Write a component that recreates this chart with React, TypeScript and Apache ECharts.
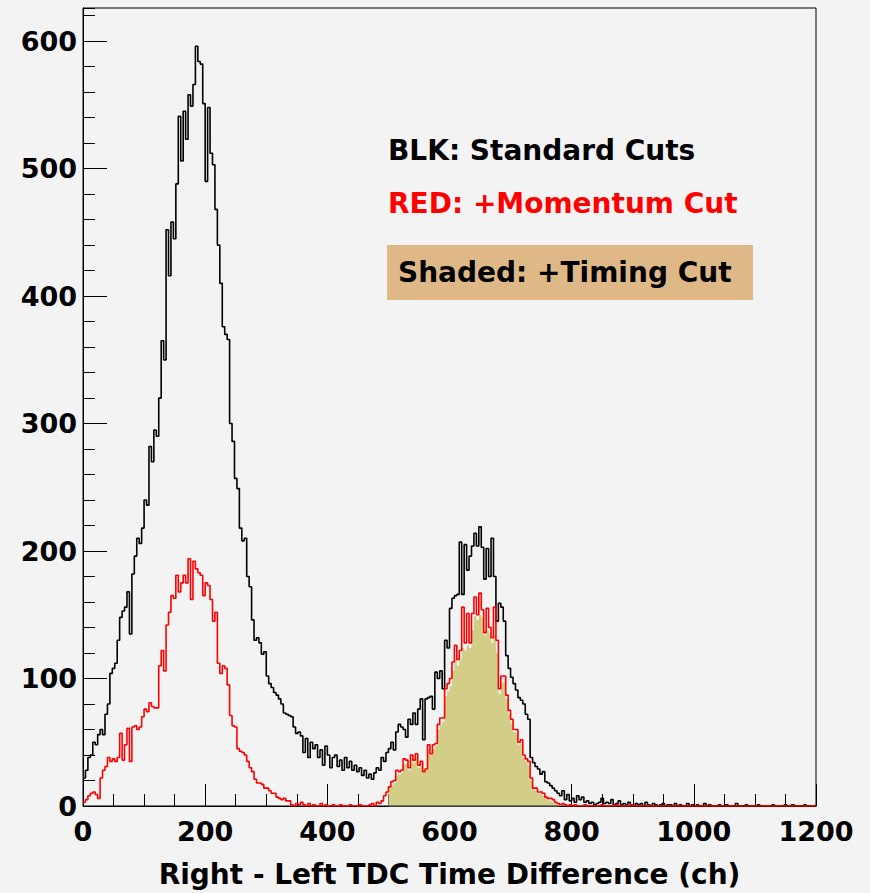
import React, { useEffect, useRef } from "react";
import * as echarts from "echarts";

// ---- data (4-channel bins from 0 to 1200) ----
const BIN_WIDTH = 4;
const X_MIN = 0;
const X_MAX = 1200;
const Y_MAX = 626;
const X_TITLE = "Right - Left TDC Time Difference (ch)";
const LEGEND_BLACK = "BLK: Standard Cuts";
const LEGEND_RED = "RED: +Momentum Cut";
const LEGEND_SHADED = "Shaded: +Timing Cut";

// Standard cuts (black)
const BLACK = [
  22, 28, 38, 40, 50, 48, 56, 60, 56, 72,
  80, 104, 108, 112, 130, 148, 153, 156, 168, 135,
  182, 196, 210, 206, 218, 240, 236, 282, 270, 295,
  290, 320, 365, 350, 452, 416, 458, 445, 488, 541,
  506, 545, 523, 558, 549, 566, 596, 584, 582, 551,
  490, 548, 512, 503, 468, 440, 410, 376, 370, 366,
  300, 286, 257, 249, 218, 208, 210, 180, 172, 146,
  130, 132, 128, 119, 121, 102, 96, 93, 89, 87,
  84, 80, 73, 72, 71, 70, 62, 57, 58, 55,
  42, 53, 38, 50, 45, 48, 38, 44, 32, 47,
  40, 30, 38, 40, 31, 36, 28, 38, 30, 35,
  28, 32, 27, 30, 24, 28, 22, 25, 21, 26,
  30, 28, 38, 35, 42, 45, 50, 44, 58, 64,
  62, 60, 54, 68, 64, 73, 64, 76, 84, 52,
  84, 85, 86, 76, 105, 100, 106, 92, 130, 124,
  155, 163, 165, 166, 207, 166, 205, 185, 196, 204,
  214, 204, 219, 203, 178, 202, 180, 210, 180, 145,
  159, 156, 145, 118, 108, 101, 96, 91, 85, 83,
  80, 72, 68, 38, 34, 31, 29, 25, 27, 19,
  18, 16, 14, 12, 10, 8, 12, 5, 9, 4,
  6, 3, 8, 5, 7, 3, 4, 2, 3, 1,
  2, 3, 6, 2, 3, 2, 5, 1, 2, 4,
  1, 2, 1, 3, 1, 0, 2, 1, 2, 0,
  3, 1, 0, 2, 1, 0, 1, 2, 0, 1,
  1, 0, 2, 0, 1, 0, 0, 2, 0, 1,
  0, 1, 0, 0, 2, 0, 1, 0, 0, 0,
  1, 0, 0, 1, 0, 0, 0, 2, 0, 0,
  0, 1, 0, 0, 0, 0, 1, 0, 0, 0,
  0, 0, 1, 0, 0, 0, 0, 1, 0, 0,
  1, 0, 0, 0, 0, 1, 0, 0, 0, 0,
];

// + Momentum cut (red)
const RED = [
  3, 5, 8, 10, 11, 9, 6, 22, 28, 31,
  38, 35, 37, 35, 38, 57, 36, 48, 61, 35,
  62, 63, 60, 62, 70, 76, 74, 81, 78, 77,
  77, 110, 122, 106, 142, 152, 165, 163, 181, 168,
  175, 181, 175, 194, 162, 192, 186, 183, 181, 165,
  175, 173, 162, 145, 152, 112, 104, 110, 108, 95,
  71, 63, 62, 45, 43, 42, 40, 35, 30, 27,
  21, 18, 18, 17, 14, 14, 12, 10, 10, 7,
  6, 5, 6, 4, 4, 1, 0, 2, 1, 3,
  1, 0, 2, 0, 1, 0, 0, 2, 0, 1,
  0, 0, 1, 0, 0, 1, 0, 0, 0, 1,
  0, 0, 0, 1, 0, 0, 0, 1, 2, 0,
  3, 2, 4, 8, 11, 15, 19, 20, 28, 27,
  28, 37, 36, 30, 40, 36, 41, 32, 35, 27,
  29, 48, 41, 48, 49, 64, 69, 69, 92, 96,
  100, 113, 126, 115, 122, 156, 128, 151, 128, 151,
  164, 150, 167, 154, 136, 155, 140, 132, 156, 130,
  92, 102, 102, 87, 75, 68, 60, 60, 50, 52,
  40, 37, 35, 22, 14, 14, 11, 11, 10, 7,
  6, 6, 5, 3, 2, 1, 2, 1, 0, 1,
  0, 1, 0, 0, 0, 1, 0, 0, 0, 0,
  0, 0, 1, 0, 0, 0, 0, 0, 1, 0,
  0, 0, 0, 0, 1, 0, 0, 0, 0, 0,
  0, 0, 0, 0, 0, 0, 0, 0, 0, 0,
  0, 0, 0, 0, 0, 0, 0, 0, 0, 0,
  0, 0, 0, 0, 0, 0, 0, 0, 0, 0,
  0, 0, 0, 0, 0, 0, 0, 0, 0, 0,
  0, 0, 0, 0, 0, 0, 0, 0, 0, 0,
  0, 0, 0, 0, 0, 0, 0, 0, 0, 0,
  0, 0, 0, 0, 0, 0, 0, 0, 0, 0,
];

// + Timing cut (shaded), bins from 500 ch
const SHADED_START = 500;
const SHADED = [
  14, 16, 18, 24, 25,
  26, 33, 33, 28, 37, 34, 38, 30, 33, 26,
  28, 44, 40, 45, 47, 60, 64, 66, 86, 90,
  94, 106, 115, 110, 115, 124, 122, 126, 124, 138,
  149, 146, 150, 148, 134, 138, 136, 128, 134, 120,
  88, 96, 98, 84, 72, 65, 58, 57, 48, 49,
  38, 35, 32, 20, 13, 12, 10, 10, 8, 6,
  5, 4, 3, 2, 1, 1, 0, 0, 0, 0,
];

const FONT = "DejaVu Sans";

function toSteps(values: number[], start: number): number[][] {
  const pts = values.map((v, i) => [start + i * BIN_WIDTH, v]);
  pts.push([start + values.length * BIN_WIDTH, values[values.length - 1]]);
  return pts;
}

export default function App() {
  const ref = useRef<HTMLDivElement>(null);

  useEffect(() => {
    if (!ref.current) return;
    const chart = echarts.init(ref.current, null, { renderer: "svg" });
    const labelStyle = {
      fontFamily: FONT,
      fontWeight: "bold" as const,
      fontSize: 27,
      color: "#000",
    };
    const plain = (v: number) => String(v);
    const shadedEnd = SHADED_START + SHADED.length * BIN_WIDTH;
    chart.setOption({
      animation: false,
      backgroundColor: "#f3f3f3",
      grid: {
        left: 83,
        top: 8,
        width: 733,
        height: 803,
        show: true,
        borderColor: "#000",
        borderWidth: 1,
        backgroundColor: "transparent",
      },
      xAxis: [
        {
          type: "value",
          min: X_MIN,
          max: X_MAX,
          interval: 50,
          position: "bottom",
          axisLine: { show: true, lineStyle: { color: "#000", width: 1 } },
          axisTick: { show: true, inside: true, length: 12, lineStyle: { color: "#000", width: 1 } },
          axisLabel: { show: false },
          splitLine: { show: false },
        },
        {
          type: "value",
          min: X_MIN,
          max: X_MAX,
          interval: 200,
          position: "bottom",
          axisLine: { show: false },
          axisTick: { show: true, inside: true, length: 22, lineStyle: { color: "#000", width: 1 } },
          axisLabel: { show: true, margin: 12, formatter: plain, ...labelStyle },
          splitLine: { show: false },
          name: X_TITLE,
          nameLocation: "middle",
          nameGap: 54,
          nameTextStyle: { fontFamily: FONT, fontWeight: "bold", fontSize: 28, color: "#000" },
        },
      ],
      yAxis: [
        {
          type: "value",
          min: 0,
          max: Y_MAX,
          interval: 20,
          position: "left",
          axisLine: { show: true, lineStyle: { color: "#000", width: 1 } },
          axisTick: { show: true, inside: true, length: 12, lineStyle: { color: "#000", width: 1 } },
          axisLabel: { show: false },
          splitLine: { show: false },
        },
        {
          type: "value",
          min: 0,
          max: Y_MAX,
          interval: 100,
          position: "left",
          axisLine: { show: false },
          axisTick: { show: true, inside: true, length: 24, lineStyle: { color: "#000", width: 1 } },
          axisLabel: { show: true, margin: 6, showMaxLabel: false, formatter: plain, ...labelStyle },
          splitLine: { show: false },
        },
      ],
      series: [
        {
          type: "line",
          name: "black",
          xAxisIndex: 0,
          yAxisIndex: 0,
          step: "end",
          symbol: "none",
          data: toSteps(BLACK, X_MIN),
          lineStyle: { color: "#000", width: 1.6 },
          z: 2,
        },
        {
          type: "line",
          name: "shaded",
          xAxisIndex: 0,
          yAxisIndex: 0,
          step: "end",
          symbol: "none",
          data: toSteps(SHADED, SHADED_START),
          lineStyle: { width: 0, color: "#d2cd87" },
          areaStyle: { color: "#d2cd87", opacity: 1 },
          z: 3,
        },
        {
          type: "line",
          name: "red",
          xAxisIndex: 0,
          yAxisIndex: 0,
          step: "end",
          symbol: "none",
          data: toSteps(RED, X_MIN),
          lineStyle: { color: "#ff0000", width: 1.6 },
          z: 4,
          markLine: {
            silent: true,
            symbol: "none",
            label: { show: false },
            lineStyle: { color: "#555", width: 1.5, type: "solid" },
            data: [[{ coord: [SHADED_START, 0] }, { coord: [shadedEnd - 20, 0] }]],
          },
        },
      ],
      graphic: [
        {
          type: "text",
          left: 388,
          top: 136,
          style: { text: LEGEND_BLACK, fill: "#000", font: `bold 28px "${FONT}"` },
        },
        {
          type: "text",
          left: 388,
          top: 189,
          style: { text: LEGEND_RED, fill: "#ff0000", font: `bold 28px "${FONT}"` },
        },
        {
          type: "rect",
          shape: { x: 387, y: 245, width: 366, height: 55 },
          style: { fill: "#deb887" },
        },
        {
          type: "text",
          left: 398,
          top: 258,
          style: { text: LEGEND_SHADED, fill: "#000", font: `bold 28px "${FONT}"` },
        },
      ],
    });
    return () => chart.dispose();
  }, []);

  return (
    <div
      ref={ref}
      style={{ position: "absolute", left: 0, top: 0, width: 870, height: 893 }}
    />
  );
}
